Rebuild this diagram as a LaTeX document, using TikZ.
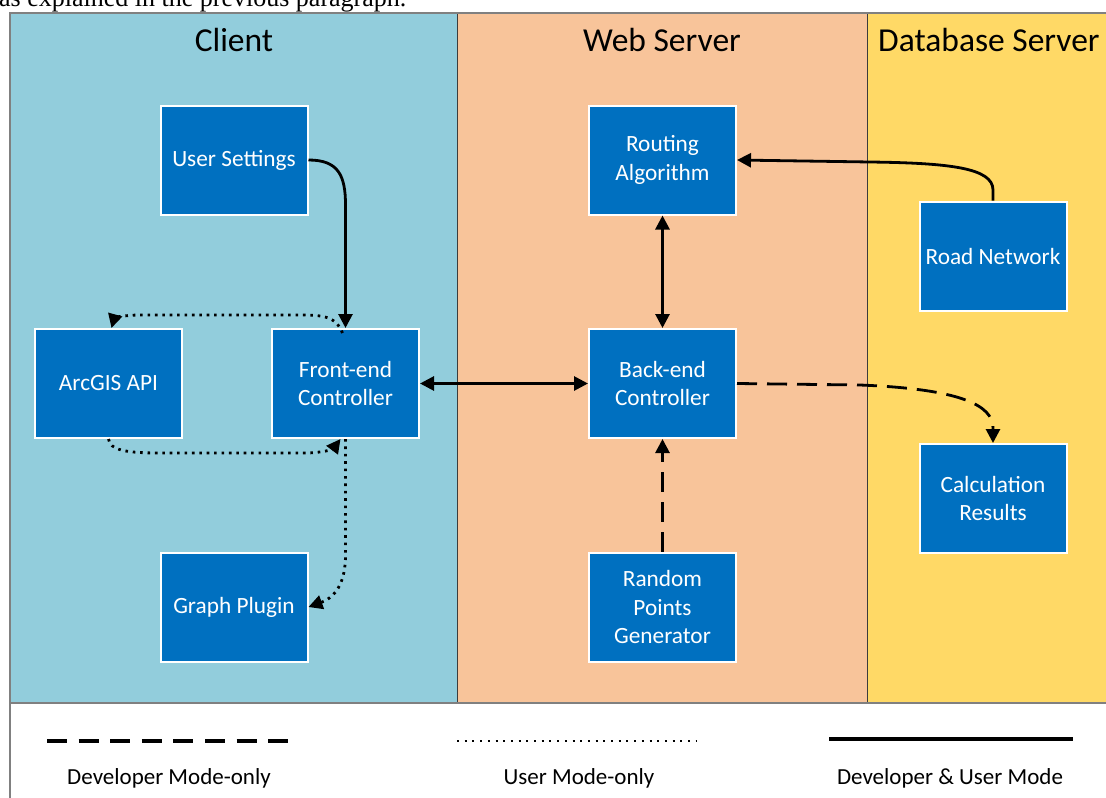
\documentclass[tikz,border=0pt]{standalone}
\usepackage{fontspec}
\setmainfont{Carlito}
\newfontfamily\bodyserif{Liberation Serif}
\usetikzlibrary{arrows.meta}

\definecolor{clientbg}{RGB}{146,205,220}
\definecolor{webbg}{RGB}{248,196,154}
\definecolor{dbbg}{RGB}{255,217,102}
\definecolor{boxblue}{RGB}{0,112,192}
\definecolor{framegray}{RGB}{128,128,128}
\definecolor{divider}{RGB}{60,60,60}

\tikzset{
  compbox/.style={draw=white, line width=2pt, fill=boxblue, text=white,
    minimum width=147pt, minimum height=109pt, inner sep=2pt, align=center,
    font=\fontsize{23.3}{28.5}\selectfont},
  lanetitle/.style={font=\fontsize{33.5}{40}\selectfont, inner sep=0pt},
  legendtext/.style={font=\fontsize{23}{28}\selectfont, inner sep=0pt},
  tip/.style={-{Triangle[length=14pt,width=14pt]}},
  bothtips/.style={{Triangle[length=14pt,width=14pt]}-{Triangle[length=14pt,width=14pt]}},
  solidlink/.style={line width=2.8pt},
  dashlink/.style={line width=2.8pt, dash pattern=on 20pt off 10pt},
  dotlink/.style={line width=2.8pt, dash pattern=on 2.6pt off 4.8pt},
}

\begin{document}
\begin{tikzpicture}[x=1pt,y=-1pt]
  \clip (0,0) rectangle (1106,798);

  % text line of the surrounding page
  \node[anchor=base west, inner sep=0pt, font=\bodyserif\fontsize{26}{30}\selectfont]
    (para) at (-1,6) {as explained in the previous paragraph.};

  % swim lanes
  \fill[clientbg] (10,13) rectangle (457,703);
  \fill[webbg] (457,13) rectangle (867,703);
  \fill[dbbg] (867,13) rectangle (1120,703);
  \draw[divider, line width=1pt] (457,13) -- (457,703);
  \draw[divider, line width=1pt] (867,13) -- (867,703);
  \draw[framegray, line width=1.2pt] (10,703) -- (1120,703);
  \draw[framegray, line width=2pt] (10,810) -- (10,12.5) -- (1120,12.5);

  % lane titles
  \node[lanetitle] (tclient) at (234,40) {Client};
  \node[lanetitle] (tweb) at (662,40) {Web Server};
  \node[lanetitle, anchor=west] (tdb) at (878,40) {Database Server};

  % components
  \node[compbox] (us) at (234,160) {User Settings};
  \node[compbox] (ag) at (108.5,383.5) {ArcGIS API};
  \node[compbox] (fe) at (345.5,383.5) {Front-end\\Controller};
  \node[compbox] (gp) at (234,607) {Graph Plugin};
  \node[compbox] (ra) at (662.5,160) {Routing\\Algorithm};
  \node[compbox] (be) at (662.5,383.5) {Back-end\\Controller};
  \node[compbox] (rp) at (662.5,607) {Random\\Points\\Generator};
  \node[compbox] (rn) at (993,256) {Road Network};
  \node[compbox] (cr) at (993,498.5) {Calculation\\Results};

  % developer & user mode links
  \draw[solidlink, tip] (us.east) .. controls (338,160) and (345.5,175) .. (345.5,205) -- (fe.north);
  \draw[solidlink, bothtips] (fe.east) -- (be.west);
  \draw[solidlink, bothtips] (ra.south) -- (be.north);
  \draw[solidlink, tip] (rn.north) -- (993,190) .. controls (993,168) and (950,163) .. (870,162) -- (ra.east);

  % developer mode-only links
  \draw[dashlink, tip] (be.east) -- (860,385) .. controls (960,389) and (993,405) .. (993,428) -- (cr.north);
  \draw[dashlink, tip] (rp.north) -- (be.south);

  % user mode-only links
  \draw[dotlink, tip] ([xshift=-3pt,yshift=-5pt]fe.north) .. controls (335,314) and (320,315) .. (290,315)
    -- (140,315) .. controls (122,315) and (114,319) .. ([xshift=3pt]ag.north);
  \draw[dotlink, tip] (ag.south) .. controls (110,450) and (125,453) .. (160,453)
    -- (305,453) .. controls (322,453) and (333,449) .. ([xshift=-5pt]fe.south);
  \draw[dotlink, tip] (fe.south) -- (345.5,555) .. controls (345.5,582) and (336,597) .. (gp.east);

  % legend
  \draw[line width=4pt, dash pattern=on 20pt off 11.6pt] (47,741) -- (289,741);
  \draw[line width=2pt, dash pattern=on 2pt off 5.7pt] (457,741) -- (697,741);
  \draw[line width=3.2pt] (829,739) -- (1073,739);
  \node[legendtext] (ldev) at (169,778) {Developer Mode-only};
  \node[legendtext] (luser) at (579,778) {User Mode-only};
  \node[legendtext] (lboth) at (950,778) {Developer \& User Mode};
\end{tikzpicture}
\end{document}
